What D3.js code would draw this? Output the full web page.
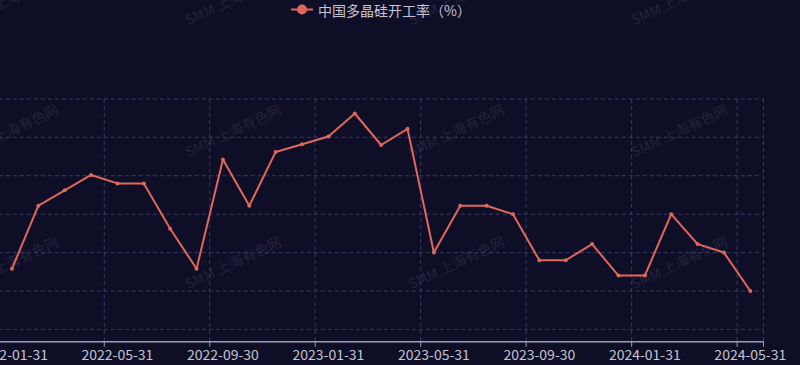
<!DOCTYPE html>
<html>
<head>
<meta charset="utf-8">
<script src="https://cdn.jsdelivr.net/npm/d3@7"></script>
<style>
  html, body { margin: 0; padding: 0; background: #0f0e27; }
  svg { display: block; }
</style>
</head>
<body>
<svg id="chart" width="800" height="365"></svg>
<script>
// month-end dates (category axis)
var dates = [
  "2022-01-31","2022-02-28","2022-03-31","2022-04-30","2022-05-31","2022-06-30",
  "2022-07-31","2022-08-31","2022-09-30","2022-10-31","2022-11-30","2022-12-31",
  "2023-01-31","2023-02-28","2023-03-31","2023-04-30","2023-05-31","2023-06-30",
  "2023-07-31","2023-08-31","2023-09-30","2023-10-31","2023-11-30","2023-12-31",
  "2024-01-31","2024-02-29","2024-03-31","2024-04-30","2024-05-31"
];
// 中国多晶硅开工率 (%)
var rate = [
  67.9, 76.1, 78.1, 80.1, 79.0, 79.0, 73.1, 67.9, 82.1, 76.1, 83.1, 84.1,
  85.1, 88.1, 84.0, 86.1, 70.0, 76.1, 76.1, 75.0, 69.0, 69.0, 71.1, 67.0,
  67.0, 75.0, 71.1, 70.0, 65.0
];
var yTicks = [60, 65, 70, 75, 80, 85, 90];
var yRange = [58.4, 90];
var seriesName = "中国多晶硅开工率（%）";
var watermark = "SMM 上海有色网";

var W = 800, H = 365;
// plot area; the y axis labels sit left of the visible window (cropped)
var grid = {left: -1.2, right: 763.5, top: 98.9, bottom: 341.7};
var lineColor = "#e0675b";
var font = "'Noto Sans CJK SC', 'Noto Sans', sans-serif";

var svg = d3.select('#chart');

var x = d3.scaleBand().domain(dates).range([grid.left, grid.right]);
var y = d3.scaleLinear().domain(yRange).range([grid.bottom, grid.top]);
var cx = function(d) { return x(d) + x.bandwidth() / 2; };

// watermark tiles
var wmX = [10, 233, 456, 679], wmY = [-2, 130, 262];
wmY.forEach(function(wy) {
  wmX.forEach(function(wx) {
    svg.append('text')
      .attr('transform', 'translate(' + wx + ',' + wy + ') rotate(-25)')
      .attr('text-anchor', 'middle')
      .attr('dominant-baseline', 'central')
      .style('font-family', font)
      .style('font-size', '14px')
      .style('fill', 'rgba(200,200,225,0.13)')
      .text(watermark);
  });
});

// horizontal split lines
svg.append('g').selectAll('line').data(yTicks).enter().append('line')
  .attr('x1', grid.left).attr('x2', grid.right)
  .attr('y1', function(d) { return y(d); })
  .attr('y2', function(d) { return y(d); })
  .attr('stroke', '#363b63').attr('stroke-width', 1)
  .attr('stroke-dasharray', '4,3');

// vertical split lines every 4th category + right edge
var splitIdx = dates.filter(function(d, i) { return i % 4 === 0; });
var splitX = splitIdx.map(function(d) { return x(d); }).concat([grid.right]);
svg.append('g').selectAll('line').data(splitX).enter().append('line')
  .attr('x1', function(d) { return d; }).attr('x2', function(d) { return d; })
  .attr('y1', grid.top).attr('y2', grid.bottom)
  .attr('stroke', '#363b63').attr('stroke-width', 1)
  .attr('stroke-dasharray', '4,3');

// x axis
svg.append('line')
  .attr('x1', grid.left).attr('x2', grid.right)
  .attr('y1', grid.bottom).attr('y2', grid.bottom)
  .attr('stroke', '#9d9db3').attr('stroke-width', 1.5);

svg.append('g').selectAll('line').data(splitX).enter().append('line')
  .attr('x1', function(d) { return d; }).attr('x2', function(d) { return d; })
  .attr('y1', grid.bottom).attr('y2', grid.bottom + 5)
  .attr('stroke', '#9d9db3').attr('stroke-width', 1);

svg.append('g').selectAll('text').data(splitIdx).enter().append('text')
  .attr('x', cx)
  .attr('y', grid.bottom + 12)
  .attr('text-anchor', 'middle')
  .attr('dominant-baseline', 'central')
  .style('font-family', font)
  .style('font-size', '14px')
  .style('fill', '#c4c4d2')
  .text(function(d) { return d; });

// series line
var line = d3.line()
  .x(function(d, i) { return cx(dates[i]); })
  .y(function(d) { return y(d); });

svg.append('path')
  .datum(rate)
  .attr('d', line)
  .attr('fill', 'none')
  .attr('stroke', lineColor)
  .attr('stroke-width', 2)
  .attr('stroke-linejoin', 'round');

svg.append('g').selectAll('circle').data(rate).enter().append('circle')
  .attr('cx', function(d, i) { return cx(dates[i]); })
  .attr('cy', function(d) { return y(d); })
  .attr('r', 2)
  .attr('fill', lineColor);

// legend
var lg = svg.append('g');
lg.append('line')
  .attr('x1', 291).attr('x2', 313).attr('y1', 9.5).attr('y2', 9.5)
  .attr('stroke', lineColor).attr('stroke-width', 2);
lg.append('circle')
  .attr('cx', 302).attr('cy', 9.5).attr('r', 5)
  .attr('fill', lineColor);
lg.append('text')
  .attr('x', 318).attr('y', 9.5)
  .attr('dominant-baseline', 'central')
  .style('font-family', font)
  .style('font-size', '14px')
  .style('fill', '#c4c4d2')
  .text(seriesName);
</script>
</body>
</html>
